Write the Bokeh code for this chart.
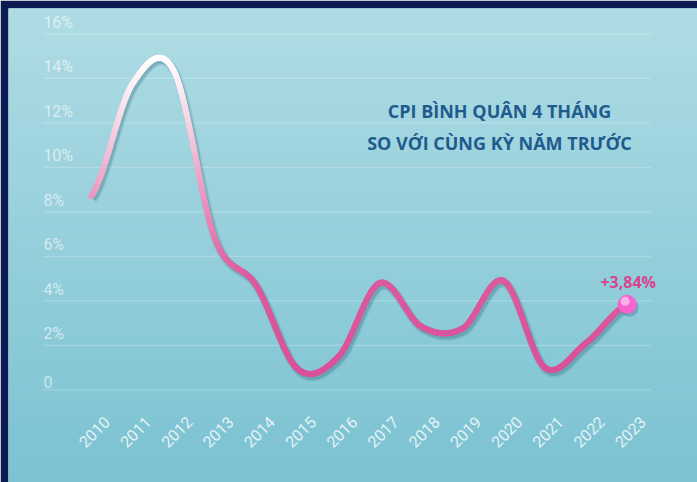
import numpy as np
from bokeh.plotting import figure
from bokeh.models import Range1d, Label
from bokeh.core.properties import value
from bokeh.embed import file_html
from bokeh.resources import INLINE

# ---------------- data ----------------
years = [2010, 2011, 2012, 2013, 2014, 2015, 2016, 2017, 2018, 2019, 2020, 2021, 2022, 2023]
cpi = [8.7, 13.75, 14.35, 6.8, 4.7, 0.95, 1.5, 4.8, 2.85, 2.75, 4.9, 1.0, 2.1, 3.84]
y_ticks = [0, 2, 4, 6, 8, 10, 12, 14, 16]
y_tick_labels = ["0", "2%", "4%", "6%", "8%", "10%", "12%", "14%", "16%"]
year_labels = [str(y) for y in years]
title_lines = ["CPI BÌNH QUÂN 4 THÁNG", "SO VỚI CÙNG KỲ NĂM TRƯỚC"]
last_label = "+3,84%"

# ---------------- layout ----------------
W, H = 697, 482
BL, BT = 8, 8                      # navy border left / top
FW, FH = W - BL, H - BT            # frame size
X0, X1 = 2007.994, 2024.705
Y0, Y1 = -4.166, 17.137
PXX = FW / (X1 - X0)   # pixels per year
PXY = FH / (Y1 - Y0)   # pixels per percent

p = figure(width=W, height=H, x_range=Range1d(X0, X1), y_range=Range1d(Y0, Y1),
           output_backend="svg", toolbar_location=None, title=None,
           min_border_left=BL, min_border_top=BT, min_border_right=0, min_border_bottom=0)
p.axis.visible = False
p.grid.visible = False
p.outline_line_color = None
p.background_fill_color = "#97cfda"
p.border_fill_color = "#0b1b52"


def hex2rgb(h):
    h = h.lstrip("#")
    return np.array([int(h[i:i + 2], 16) for i in (0, 2, 4)], float)


def rgb2hex(c):
    return "#%02x%02x%02x" % tuple(int(round(v)) for v in c)


# background vertical gradient
bg_top, bg_bot = hex2rgb("#afdce4"), hex2rgb("#7bc2d2")
nb = 120
edges = np.linspace(Y0, Y1, nb + 1)
fr = (edges[:-1] + edges[1:]) / 2
fr = (fr - Y0) / (Y1 - Y0)
bg_cols = [rgb2hex(bg_bot + (bg_top - bg_bot) * f) for f in fr]
p.quad(left=X0, right=X1, bottom=edges[:-1], top=edges[1:] + 0.02,
       fill_color=bg_cols, line_color=None)

# grid lines (start at label left edge)
gx0 = years[0] - 1.16
gx1 = years[-1] + 0.58
p.segment(x0=[gx0] * len(y_ticks), x1=[gx1] * len(y_ticks), y0=y_ticks, y1=y_ticks,
          line_color="#ffffff", line_alpha=0.28, line_width=1)

# y tick labels above gridlines
p.text(x=[gx0] * len(y_ticks), y=y_ticks, text=y_tick_labels, y_offset=-2,
       text_align="left", text_baseline="bottom", text_font=value("Roboto"),
       text_font_size="16px", text_color="#ffffff", text_alpha=0.6)

# x labels rotated
p.text(x=years, y=[0] * len(years), text=year_labels, x_offset=3, y_offset=42,
       angle=np.pi / 4, text_align="center", text_baseline="middle",
       text_font=value("Roboto"), text_font_size="16px",
       text_color="#ffffff", text_alpha=0.8)

# ---------------- smooth curve (Catmull-Rom spline through data) ----------------
xs = np.array(years, float)
ys = np.array(cpi, float)
n = len(xs)
m = np.zeros(n)
for i in range(n):
    if i == 0:
        m[i] = (ys[1] - ys[0]) / 2
    elif i == n - 1:
        m[i] = (ys[-1] - ys[-2]) / 2
    else:
        m[i] = (ys[i + 1] - ys[i - 1]) / 2
t = np.linspace(0, 1, 30)
h00 = 2 * t**3 - 3 * t**2 + 1
h10 = t**3 - 2 * t**2 + t
h01 = -2 * t**3 + 3 * t**2
h11 = t**3 - t**2
cx, cy = [], []
for i in range(n - 1):
    yy = h00 * ys[i] + h10 * m[i] + h01 * ys[i + 1] + h11 * m[i + 1]
    xx = xs[i] + t * (xs[i + 1] - xs[i])
    if i > 0:
        xx, yy = xx[1:], yy[1:]
    cx.extend(xx)
    cy.extend(yy)
cx = np.array(cx)
cy = np.array(cy)

# shadow
sdx, sdy = 2.0 / PXX, -3.0 / PXY
p.line(cx + sdx, cy + sdy, line_width=9, line_color="#1f5d6e", line_alpha=0.12, line_join="round")
p.line(cx + sdx, cy + sdy, line_width=6, line_color="#1f5d6e", line_alpha=0.22, line_join="round")

# gradient colour by height
stops = [(0.0, "#d94f99"), (5.0, "#dc5a9e"), (7.0, "#e57fb3"), (9.0, "#eb9cc4"),
         (11.0, "#f2c4d9"), (13.3, "#fae9f1"), (15.0, "#ffffff")]
sv = np.array([s[0] for s in stops])
sc = np.array([hex2rgb(s[1]) for s in stops])


def col_at(v):
    return rgb2hex([np.interp(v, sv, sc[:, k]) for k in range(3)])


mid = (cy[:-1] + cy[1:]) / 2
seg_cols = [col_at(v) for v in mid]
p.segment(x0=cx[:-1], y0=cy[:-1], x1=cx[1:], y1=cy[1:], line_color=seg_cols,
          line_width=6, line_cap="round")

# end marker (ball)
ex, ey = years[-1], cpi[-1]
p.scatter(x=[ex + 2 / PXX], y=[ey - 3 / PXY], size=19, fill_color="#1f5d6e",
          fill_alpha=0.3, line_color=None)
p.scatter(x=[ex], y=[ey], size=19, fill_color="#f763cf", line_color=None)
p.scatter(x=[ex - 2 / PXX], y=[ey + 3 / PXY], size=9, fill_color="#ffffff",
          fill_alpha=0.5, line_color=None)

p.text(x=[ex], y=[ey], text=[last_label], x_offset=1, y_offset=-22,
       text_align="center", text_baseline="middle", text_font=value("Open Sans"),
       text_font_style="bold", text_font_size="16px", text_color="#d8458f")

# title (screen units: from canvas left / bottom)
for line_text, yy in zip(title_lines, [372, 340]):
    p.add_layout(Label(x=491, y=yy, x_units="screen", y_units="screen", text=line_text,
                       text_align="center", text_baseline="middle",
                       text_font="Open Sans", text_font_style="bold",
                       text_font_size="18px", text_color="#1f5b8d"))

open("out.html", "w").write(file_html(p, INLINE))
